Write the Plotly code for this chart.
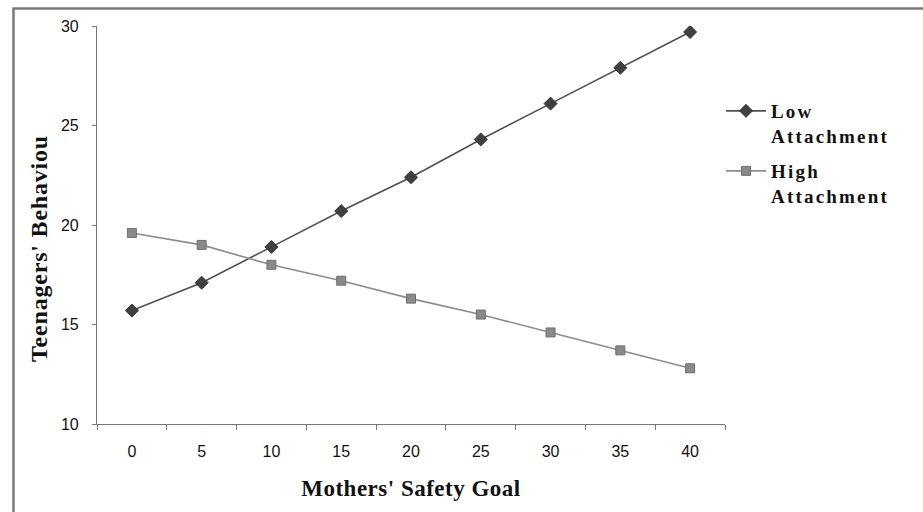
import plotly.graph_objects as go

# Mothers' safety goal levels (categorical x axis)
safety_goal = ["0", "5", "10", "15", "20", "25", "30", "35", "40"]

# Teenagers' behaviour for each attachment group
low_attachment = [15.7, 17.1, 18.9, 20.7, 22.4, 24.3, 26.1, 27.9, 29.7]
high_attachment = [19.6, 19.0, 18.0, 17.2, 16.3, 15.5, 14.6, 13.7, 12.8]

y_ticks = [10, 15, 20, 25, 30]

W, H = 923, 512
ML, MR, MT, MB = 97, 198, 26, 88
PW, PH = W - ML - MR, H - MT - MB


def px_to_paper_x(px):
    return (px - ML) / PW


def px_to_paper_y(py):
    return (H - MB - py) / PH


serif = "Liberation Serif, Times New Roman, serif"
sans = "Liberation Sans, Arial, sans-serif"


def spaced(text, ls):
    return f'<span style="letter-spacing:{ls}px"><b>{text}</b></span>'


def legend_label(first, second):
    return f"{spaced(first, 2.2)}<br>{spaced(second, 2.2)}"


fig = go.Figure()
fig.add_trace(go.Scatter(
    x=safety_goal, y=low_attachment, mode="lines+markers",
    name=legend_label("Low", "Attachment"), legend="legend",
    line=dict(color="#505050", width=1.6),
    marker=dict(symbol="diamond", size=10, color="#404040",
                line=dict(color="#333333", width=1)),
))
fig.add_trace(go.Scatter(
    x=safety_goal, y=high_attachment, mode="lines+markers",
    name=legend_label("High", "Attachment"), legend="legend2",
    line=dict(color="#8c8c8c", width=1.6),
    marker=dict(symbol="square", size=9, color="#8a8a8a",
                line=dict(color="#6e6e6e", width=1)),
))

legend_common = dict(
    xanchor="left", yanchor="top",
    font=dict(family=serif, size=19, color="#111111"),
    valign="top", itemwidth=40,
    bgcolor="rgba(0,0,0,0)",
)

# Outer frame: grey rule along the top and left edges of the page
frame = dict(type="path", xref="paper", yref="paper", layer="above",
             path=(f"M {px_to_paper_x(13.5)},{px_to_paper_y(H)} "
                   f"L {px_to_paper_x(13.5)},{px_to_paper_y(8.5)} "
                   f"L {px_to_paper_x(W)},{px_to_paper_y(8.5)}"),
             line=dict(color="#7a7a7a", width=2.5))

fig.update_layout(
    width=W, height=H,
    margin=dict(l=ML, r=MR, t=MT, b=MB),
    paper_bgcolor="white", plot_bgcolor="white",
    showlegend=True,
    legend=dict(x=px_to_paper_x(721), y=px_to_paper_y(92), **legend_common),
    legend2=dict(x=px_to_paper_x(721), y=px_to_paper_y(152), **legend_common),
    xaxis=dict(
        type="category", range=[-0.5, 8.5],
        showgrid=False, zeroline=False,
        showline=True, linecolor="#777777", linewidth=1.2,
        ticks="outside", tickson="boundaries", ticklen=5,
        tickcolor="#777777", ticklabelstandoff=13,
        tickfont=dict(family=sans, size=16, color="#111111"),
        title=dict(text=spaced("Mothers' Safety Goal", 0.5),
                   font=dict(family=serif, size=23, color="#111111"),
                   standoff=20),
    ),
    yaxis=dict(
        range=[10, 30], tickvals=y_ticks,
        showgrid=False, zeroline=False,
        showline=True, linecolor="#777777", linewidth=1.2,
        ticks="outside", ticklen=4, tickcolor="#777777",
        ticklabelstandoff=10,
        tickfont=dict(family=sans, size=16, color="#111111"),
    ),
    annotations=[dict(
        text=spaced("Teenagers' Behaviou", 0.8),
        xref="paper", yref="paper",
        x=px_to_paper_x(39), y=px_to_paper_y(249),
        xanchor="center", yanchor="middle", textangle=-90,
        showarrow=False,
        font=dict(family=serif, size=24, color="#111111"),
    )],
    shapes=[frame],
)

fig.write_html("out.html")
